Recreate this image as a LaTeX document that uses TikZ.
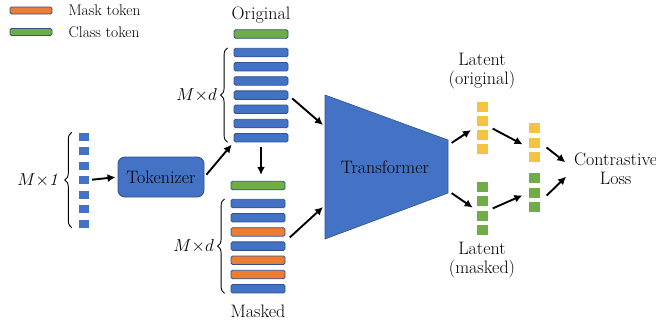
\documentclass[tikz,border=0pt]{standalone}
\usepackage{tikz}
\usetikzlibrary{positioning}
\usetikzlibrary{arrows.meta}
\usetikzlibrary{decorations.pathreplacing}

\definecolor{tokblue}{HTML}{4472C4}
\definecolor{edgeblue}{HTML}{2F528F}
\definecolor{maskor}{HTML}{ED7D31}
\definecolor{clsgreen}{HTML}{70AD47}
\definecolor{latyel}{HTML}{F6C242}

\begin{document}
\begin{tikzpicture}
  [
    x=1pt, y=-1pt,
    every node/.style={font=\fontsize{18}{19}\selectfont},
    legtext/.style={anchor=west, font=\fontsize{15.5}{18}\selectfont},
    bar/.style={draw=edgeblue, line width=0.8pt, rounded corners=1.5pt,
      minimum width=54pt, minimum height=8.5pt, inner sep=0pt},
    sq/.style={minimum width=11pt, minimum height=10pt, inner sep=0pt},
    flow/.style={draw=black, line width=1.9pt, -{Latex[length=8pt,width=8pt]}},
    curly/.style={decorate, decoration={brace, amplitude=7pt}, line width=0.9pt}
  ]
  \useasboundingbox (0,0) rectangle (656,325);

  % legend
  \node (legor) [bar, fill=maskor, minimum width=42pt, minimum height=7pt] at (31,10.5) {};
  \node (leggr) [bar, fill=clsgreen, minimum width=42pt, minimum height=7pt] at (31,32) {};
  \node (legm) [legtext] at (65,10) {Mask token};
  \node (legc) [legtext] at (65,32) {Class token};

  % input sequence
  \foreach \i in {1,...,7}
    \node (in\i) [sq, fill=tokblue, minimum width=10pt, minimum height=8pt]
      at (84, {136.5+(\i-1)*14.5}) {};
  \draw [curly] ([xshift=-7pt]in7.south west) -- ([xshift=-7pt]in1.north west)
    node [midway, left=8pt] (lin) {$M{\times}\mathit{1}$};

  \node (tok) at (161,177) [fill=tokblue, draw=edgeblue, line width=0.9pt,
    rounded corners=7pt, minimum width=86pt, minimum height=40pt] {Tokenizer};

  % original tokens
  \node (lorig) at (261,15) {Original};
  \node (o0) [bar, fill=clsgreen] at (261,34) {};
  \foreach \i in {1,...,7}
    \node (o\i) [bar, fill=tokblue] at (261, {52.5+(\i-1)*14.2}) {};
  \draw [curly] ([xshift=-6pt]o7.south west) -- ([xshift=-6pt]o1.north west)
    node [midway, left=7pt] (lo) {$M{\times}d$};

  % masked tokens
  \node (m0) [bar, fill=clsgreen] at (258,185.5) {};
  \foreach \c [count=\i] in {tokblue,tokblue,maskor,tokblue,maskor,maskor,tokblue}
    \node (m\i) [bar, fill=\c] at (258, {203.5+(\i-1)*14.2}) {};
  \draw [curly] ([xshift=-6pt]m7.south west) -- ([xshift=-6pt]m1.north west)
    node [midway, left=7pt] (lm) {$M{\times}d$};
  \node (lmask) at (258,311) {Masked};

  % transformer
  \draw [fill=tokblue, draw=edgeblue, line width=0.6pt]
    (325,95) -- (448,140) -- (448,193) -- (325,239) -- cycle;
  \node (tf) at (385,167) {Transformer};
  \coordinate (tin1) at (323,125);
  \coordinate (tin2) at (323,207);
  \coordinate (tout1) at (450,144);
  \coordinate (tout2) at (450,192);

  % latents
  \node (llo) [align=center] at (482,71) {Latent\\(original)};
  \foreach \i in {1,...,4}
    \node (lo\i) [sq, fill=latyel] at (482.5, {107+(\i-1)*14}) {};
  \foreach \i in {1,...,4}
    \node (lg\i) [sq, fill=clsgreen] at (482.5, {187+(\i-1)*14.3}) {};
  \node (llm) [align=center] at (482,260) {Latent\\(masked)};

  \foreach \i in {1,...,3}
    \node (ry\i) [sq, fill=latyel] at (534.5, {128+(\i-1)*14.5}) {};
  \foreach \i in {1,...,3}
    \node (rg\i) [sq, fill=clsgreen] at (534.5, {178+(\i-1)*14.5}) {};

  \node (loss) [anchor=west, align=center, inner sep=0pt] at (574,169) {Contrastive\\Loss};

  % arrows
  \draw [flow, shorten <=3pt, shorten >=2pt] (in4.east) -- (tok.west);
  \draw [flow, shorten <=3pt, shorten >=3pt] (tok.east) -- (o7.south west);
  \draw [flow, shorten <=5pt, shorten >=6pt] (o7.south) -- (o7.south |- m0.north);
  \draw [flow, shorten <=5pt] (o4.east) -- (tin1);
  \draw [flow, shorten <=6pt] (m4.north east) -- (tin2);
  \draw [flow, shorten <=2pt, shorten >=7pt] (tout1) -- (lo2.south west);
  \draw [flow, shorten <=2pt, shorten >=5pt] (tout2) -- (lg3.north west);
  \draw [flow, shorten <=5pt, shorten >=7pt] (lo2.south east) -- (ry2.south west);
  \draw [flow, shorten <=5pt, shorten >=7pt] (lg3.north east) -- (rg2.west);
  \draw [flow, shorten <=8pt, shorten >=11pt] (ry2.east) -- (loss.west);
  \draw [flow, shorten <=9pt, shorten >=11pt] (rg3.north east) -- (loss.west);
\end{tikzpicture}
\end{document}
